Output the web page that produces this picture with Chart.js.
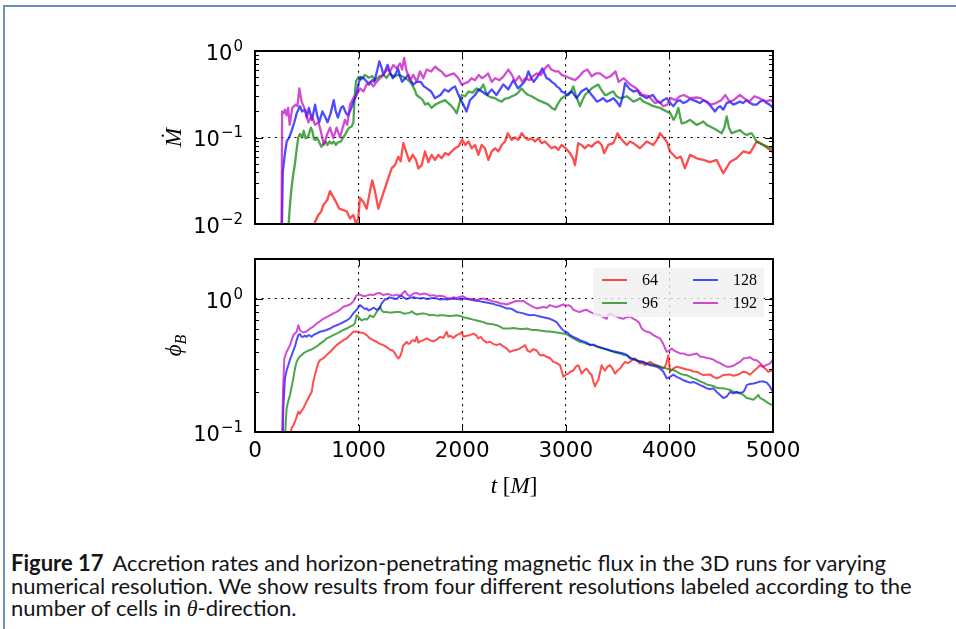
<!DOCTYPE html>
<html>
<head>
<meta charset="utf-8">
<script src="https://cdn.jsdelivr.net/npm/chart.js@4.4.1/dist/chart.umd.min.js"></script>
<style>
  html, body { margin: 0; padding: 0; background: #fff; }
  body { width: 956px; height: 629px; position: relative; overflow: hidden; }
  .frame { position: absolute; left: 3px; top: 5px; width: 980px; height: 700px;
           border-left: 2px solid #7391b8; border-top: 2px solid #7391b8; }
  canvas { position: absolute; left: 0; }
  #mdotChart { top: 0; }
  #phiChart { top: 230px; }
  .cap { position: absolute; left: 11px; font-family: Lato, "Open Sans", sans-serif; font-size: 18px;
         line-height: 22px; color: #151515; white-space: pre; }
  .cap b { margin-right: 4px; }
  .cap i { font-family: "Liberation Serif", "DejaVu Serif", serif; }
</style>
</head>
<body>
<div class="frame"></div>
<canvas id="mdotChart" width="956" height="245"></canvas>
<canvas id="phiChart" width="956" height="295"></canvas>
<div class="cap" id="cap1" style="top:552px"><b>Figure 17</b> Accretion rates and horizon-penetrating magnetic flux in the 3D runs for varying</div>
<div class="cap" id="cap2" style="top:575px">numerical resolution. We show results from four different resolutions labeled according to the</div>
<div class="cap" id="cap3" style="top:597px">number of cells in <i>θ</i>-direction.</div>
<script>
// axes
const tTicks = [0, 1000, 2000, 3000, 4000, 5000];
const mdotTicks = [0.01, 0.1, 1];
const mdotExponents = ['−2', '−1', '0'];
const phiTicks = [0.1, 1];
const phiExponents = ['−1', '0'];

// runs, labelled by number of cells in theta
const resolutions = ['64', '96', '128', '192'];
const lineColors = ['rgba(255,0,0,0.7)', 'rgba(0,128,0,0.7)', 'rgba(0,0,255,0.7)', 'rgba(191,0,191,0.7)'];

// accretion rate, [t, Mdot]
const mdot64 = [[560,0.005],[580,0.0106],[612,0.0127],[640,0.014],[660,0.0166],[698,0.019],[724,0.024],[750,0.021],[782,0.018],[814,0.015],[853,0.0145],[885,0.014],[917,0.0116],[949,0.0127],[975,0.010],[997,0.0116],[1013,0.020],[1046,0.018],[1078,0.015],[1110,0.024],[1132,0.032],[1158,0.024],[1190,0.015],[1223,0.020],[1255,0.026],[1287,0.034],[1319,0.044],[1351,0.048],[1384,0.060],[1406,0.053],[1432,0.086],[1458,0.069],[1490,0.053],[1522,0.063],[1554,0.055],[1577,0.044],[1609,0.048],[1641,0.069],[1673,0.052],[1705,0.063],[1737,0.055],[1770,0.063],[1802,0.0575],[1834,0.066],[1866,0.063],[1898,0.069],[1931,0.075],[1963,0.0785],[2000,0.094],[2030,0.082],[2060,0.090],[2092,0.075],[2124,0.082],[2156,0.063],[2188,0.082],[2220,0.075],[2253,0.055],[2285,0.069],[2317,0.075],[2349,0.069],[2381,0.082],[2413,0.090],[2440,0.112],[2477,0.094],[2510,0.10],[2542,0.094],[2574,0.112],[2606,0.10],[2638,0.094],[2670,0.098],[2702,0.090],[2735,0.098],[2767,0.086],[2799,0.090],[2831,0.082],[2863,0.075],[2895,0.0785],[2928,0.072],[2960,0.082],[3000,0.075],[3040,0.066],[3070,0.0575],[3089,0.048],[3120,0.086],[3150,0.082],[3185,0.075],[3217,0.082],[3250,0.0785],[3282,0.086],[3314,0.090],[3346,0.082],[3370,0.066],[3410,0.082],[3459,0.086],[3500,0.112],[3540,0.094],[3588,0.082],[3620,0.090],[3652,0.086],[3716,0.075],[3781,0.090],[3845,0.082],[3880,0.094],[3910,0.112],[3974,0.090],[4006,0.069],[4070,0.0575],[4110,0.060],[4150,0.044],[4199,0.063],[4263,0.0575],[4327,0.055],[4392,0.052],[4456,0.055],[4520,0.0386],[4585,0.052],[4649,0.0575],[4713,0.069],[4778,0.066],[4842,0.090],[4907,0.082],[4950,0.075],[4987,0.069],[5000,0.072]];
const mdot96 = [[300,0.004],[322,0.009],[340,0.018],[354,0.027],[370,0.038],[386,0.05],[400,0.07],[418,0.10],[434,0.11],[456,0.10],[470,0.12],[488,0.098],[505,0.10],[521,0.11],[540,0.13],[553,0.12],[570,0.095],[585,0.094],[600,0.10],[617,0.09],[640,0.078],[660,0.085],[680,0.09],[700,0.082],[720,0.09],[740,0.085],[760,0.09],[780,0.082],[800,0.088],[830,0.09],[850,0.10],[868,0.107],[890,0.12],[910,0.13],[933,0.134],[950,0.15],[962,0.30],[975,0.45],[1000,0.50],[1030,0.47],[1060,0.53],[1100,0.49],[1130,0.51],[1160,0.46],[1200,0.51],[1240,0.53],[1270,0.49],[1300,0.55],[1340,0.50],[1380,0.53],[1420,0.51],[1450,0.485],[1480,0.46],[1510,0.42],[1540,0.36],[1560,0.31],[1590,0.29],[1620,0.27],[1641,0.24],[1670,0.25],[1705,0.22],[1740,0.24],[1770,0.25],[1800,0.26],[1834,0.27],[1866,0.25],[1898,0.23],[1925,0.21],[1947,0.19],[1970,0.24],[1995,0.31],[2030,0.30],[2060,0.34],[2100,0.33],[2140,0.37],[2170,0.35],[2204,0.41],[2230,0.33],[2253,0.30],[2285,0.29],[2317,0.285],[2350,0.27],[2381,0.26],[2410,0.28],[2445,0.285],[2480,0.30],[2510,0.31],[2540,0.33],[2574,0.37],[2606,0.33],[2638,0.31],[2670,0.30],[2702,0.285],[2735,0.27],[2767,0.26],[2800,0.25],[2831,0.24],[2865,0.22],[2895,0.21],[2928,0.25],[2960,0.285],[2990,0.30],[3024,0.31],[3050,0.34],[3072,0.39],[3100,0.30],[3137,0.23],[3160,0.27],[3185,0.31],[3220,0.34],[3250,0.37],[3280,0.39],[3314,0.41],[3340,0.36],[3378,0.31],[3395,0.31],[3430,0.33],[3459,0.34],[3490,0.30],[3523,0.285],[3555,0.29],[3588,0.30],[3620,0.28],[3652,0.26],[3685,0.27],[3716,0.285],[3750,0.26],[3781,0.25],[3815,0.24],[3845,0.23],[3880,0.225],[3910,0.22],[3940,0.21],[3974,0.20],[4010,0.19],[4039,0.16],[4060,0.175],[4086,0.22],[4105,0.17],[4118,0.146],[4160,0.15],[4199,0.16],[4230,0.15],[4263,0.14],[4295,0.145],[4327,0.153],[4360,0.14],[4392,0.134],[4425,0.128],[4456,0.122],[4480,0.117],[4504,0.112],[4530,0.13],[4553,0.175],[4575,0.13],[4601,0.112],[4640,0.117],[4681,0.122],[4715,0.112],[4746,0.107],[4770,0.11],[4794,0.112],[4820,0.10],[4842,0.09],[4875,0.086],[4907,0.082],[4950,0.078],[4987,0.075],[5000,0.074]];
const mdot128 = [[255,0.004],[268,0.04],[285,0.06],[306,0.09],[330,0.10],[354,0.12],[380,0.15],[402,0.19],[434,0.23],[455,0.20],[483,0.21],[500,0.17],[520,0.22],[550,0.16],[580,0.24],[600,0.18],[620,0.15],[650,0.20],[680,0.17],[700,0.15],[730,0.19],[760,0.27],[780,0.20],[800,0.17],[830,0.22],[850,0.23],[880,0.19],[900,0.18],[930,0.22],[950,0.26],[975,0.30],[1000,0.42],[1020,0.50],[1050,0.485],[1080,0.44],[1100,0.41],[1130,0.46],[1150,0.44],[1180,0.60],[1200,0.76],[1220,0.65],[1240,0.53],[1260,0.60],[1280,0.69],[1300,0.58],[1330,0.485],[1360,0.55],[1380,0.63],[1400,0.51],[1420,0.44],[1450,0.485],[1480,0.53],[1500,0.46],[1530,0.41],[1560,0.44],[1600,0.44],[1630,0.39],[1660,0.37],[1700,0.34],[1737,0.285],[1790,0.31],[1830,0.36],[1866,0.34],[1900,0.37],[1931,0.39],[1955,0.33],[1980,0.285],[2026,0.22],[2042,0.20],[2075,0.27],[2100,0.29],[2124,0.31],[2160,0.36],[2190,0.34],[2240,0.31],[2285,0.36],[2330,0.31],[2360,0.35],[2397,0.41],[2445,0.36],[2493,0.46],[2540,0.37],[2590,0.425],[2615,0.47],[2639,0.58],[2665,0.49],[2690,0.44],[2730,0.51],[2774,0.63],[2800,0.53],[2815,0.485],[2840,0.47],[2865,0.44],[2890,0.42],[2912,0.39],[2940,0.37],[2960,0.34],[2985,0.33],[3009,0.31],[3057,0.34],[3105,0.285],[3150,0.34],[3200,0.37],[3250,0.31],[3280,0.28],[3300,0.26],[3330,0.27],[3360,0.285],[3395,0.26],[3430,0.27],[3459,0.285],[3490,0.26],[3523,0.23],[3550,0.30],[3572,0.425],[3610,0.37],[3652,0.34],[3690,0.35],[3720,0.31],[3750,0.30],[3781,0.285],[3810,0.30],[3840,0.31],[3875,0.27],[3910,0.25],[3940,0.27],[3974,0.285],[4010,0.25],[4039,0.23],[4070,0.26],[4100,0.27],[4135,0.25],[4166,0.26],[4200,0.28],[4230,0.27],[4265,0.26],[4295,0.25],[4330,0.27],[4360,0.26],[4400,0.23],[4440,0.20],[4465,0.22],[4490,0.23],[4520,0.21],[4553,0.25],[4585,0.26],[4617,0.24],[4650,0.25],[4680,0.26],[4710,0.25],[4746,0.27],[4780,0.25],[4810,0.24],[4842,0.24],[4875,0.26],[4907,0.27],[4939,0.25],[4965,0.24],[4987,0.23],[5000,0.22]];
const mdot192 = [[255,0.004],[262,0.20],[275,0.19],[290,0.21],[305,0.18],[320,0.22],[335,0.14],[360,0.22],[392,0.24],[410,0.23],[428,0.37],[450,0.26],[483,0.21],[515,0.15],[547,0.18],[580,0.14],[612,0.15],[634,0.12],[666,0.082],[698,0.11],[724,0.13],[756,0.098],[788,0.13],[820,0.10],[868,0.16],[890,0.14],[917,0.24],[949,0.285],[981,0.31],[1013,0.37],[1046,0.34],[1078,0.41],[1110,0.44],[1142,0.39],[1174,0.44],[1207,0.485],[1239,0.53],[1271,0.61],[1303,0.58],[1335,0.69],[1368,0.63],[1400,0.72],[1420,0.61],[1439,0.83],[1464,0.58],[1496,0.46],[1528,0.53],[1561,0.44],[1593,0.58],[1625,0.485],[1657,0.61],[1700,0.58],[1740,0.66],[1770,0.61],[1800,0.58],[1840,0.51],[1880,0.53],[1920,0.55],[1963,0.485],[1995,0.41],[2030,0.425],[2060,0.44],[2090,0.485],[2124,0.46],[2160,0.53],[2190,0.485],[2220,0.51],[2250,0.55],[2285,0.44],[2320,0.485],[2360,0.46],[2400,0.51],[2445,0.61],[2480,0.53],[2510,0.44],[2550,0.51],[2580,0.44],[2610,0.485],[2650,0.46],[2680,0.51],[2720,0.55],[2760,0.53],[2800,0.63],[2830,0.69],[2860,0.61],[2900,0.58],[2930,0.58],[2960,0.53],[3000,0.51],[3040,0.485],[3090,0.46],[3130,0.51],[3170,0.58],[3210,0.61],[3250,0.51],[3290,0.55],[3330,0.55],[3390,0.485],[3430,0.51],[3480,0.58],[3510,0.44],[3560,0.485],[3620,0.41],[3680,0.37],[3740,0.31],[3800,0.30],[3860,0.25],[3900,0.26],[3940,0.23],[3980,0.24],[4010,0.285],[4060,0.27],[4100,0.30],[4140,0.31],[4200,0.285],[4260,0.29],[4300,0.285],[4350,0.26],[4400,0.24],[4450,0.25],[4500,0.27],[4540,0.31],[4580,0.26],[4620,0.27],[4680,0.31],[4720,0.285],[4770,0.26],[4820,0.30],[4870,0.285],[4930,0.26],[4970,0.27],[5000,0.26]];

// horizon magnetic flux, [t, phi_B]
const phi64 = [[335,0.08],[345,0.10],[354,0.107],[370,0.112],[386,0.12],[402,0.13],[418,0.142],[434,0.137],[450,0.145],[466,0.15],[482,0.16],[498,0.169],[515,0.18],[531,0.19],[547,0.20],[563,0.239],[579,0.27],[595,0.30],[611,0.33],[627,0.347],[651,0.355],[675,0.367],[700,0.385],[724,0.40],[756,0.425],[788,0.45],[820,0.47],[853,0.49],[885,0.505],[917,0.535],[949,0.567],[981,0.57],[997,0.567],[1013,0.56],[1046,0.555],[1078,0.535],[1110,0.505],[1142,0.49],[1174,0.477],[1207,0.46],[1239,0.45],[1271,0.435],[1303,0.415],[1330,0.41],[1351,0.39],[1368,0.37],[1384,0.357],[1400,0.37],[1416,0.40],[1432,0.45],[1448,0.46],[1464,0.477],[1480,0.46],[1496,0.465],[1512,0.485],[1529,0.49],[1545,0.48],[1561,0.52],[1577,0.47],[1593,0.48],[1625,0.49],[1657,0.505],[1689,0.49],[1721,0.48],[1754,0.495],[1786,0.52],[1818,0.51],[1850,0.567],[1866,0.52],[1882,0.53],[1914,0.51],[1947,0.535],[1980,0.55],[1995,0.567],[2011,0.52],[2043,0.53],[2075,0.535],[2108,0.55],[2140,0.53],[2156,0.505],[2180,0.52],[2204,0.49],[2236,0.47],[2268,0.477],[2300,0.46],[2333,0.45],[2365,0.46],[2397,0.44],[2429,0.425],[2461,0.40],[2494,0.41],[2526,0.415],[2558,0.425],[2590,0.44],[2606,0.45],[2630,0.41],[2654,0.40],[2686,0.42],[2719,0.41],[2751,0.378],[2783,0.38],[2815,0.368],[2847,0.36],[2880,0.337],[2912,0.33],[2944,0.318],[2960,0.29],[2976,0.26],[3000,0.27],[3024,0.275],[3048,0.285],[3072,0.29],[3097,0.31],[3121,0.318],[3153,0.275],[3177,0.29],[3201,0.30],[3225,0.28],[3250,0.268],[3266,0.24],[3282,0.22],[3298,0.235],[3314,0.245],[3330,0.28],[3346,0.318],[3362,0.30],[3379,0.29],[3403,0.31],[3427,0.318],[3451,0.30],[3475,0.275],[3500,0.29],[3524,0.30],[3548,0.32],[3572,0.337],[3596,0.33],[3620,0.337],[3644,0.35],[3668,0.357],[3692,0.34],[3716,0.327],[3740,0.33],[3765,0.318],[3789,0.33],[3813,0.337],[3845,0.325],[3878,0.318],[3910,0.31],[3942,0.30],[3966,0.32],[3990,0.378],[4006,0.284],[4038,0.30],[4071,0.31],[4103,0.305],[4135,0.30],[4167,0.295],[4199,0.292],[4232,0.285],[4264,0.284],[4296,0.275],[4328,0.268],[4360,0.27],[4393,0.271],[4425,0.26],[4457,0.253],[4489,0.26],[4521,0.268],[4553,0.27],[4585,0.271],[4617,0.265],[4650,0.268],[4682,0.275],[4714,0.284],[4746,0.28],[4778,0.27],[4810,0.285],[4843,0.30],[4875,0.318],[4899,0.31],[4923,0.30],[4955,0.284],[4988,0.29],[5000,0.285]];
const phi96 = [[285,0.05],[295,0.11],[305,0.15],[320,0.17],[338,0.19],[354,0.22],[370,0.253],[386,0.30],[402,0.337],[418,0.357],[434,0.37],[450,0.38],[466,0.39],[490,0.40],[515,0.41],[540,0.415],[563,0.425],[595,0.44],[627,0.46],[659,0.48],[691,0.505],[724,0.52],[756,0.535],[788,0.55],[820,0.567],[853,0.585],[885,0.60],[917,0.62],[949,0.636],[965,0.66],[981,0.755],[997,0.735],[1013,0.71],[1030,0.69],[1046,0.70],[1062,0.71],[1078,0.70],[1094,0.72],[1110,0.755],[1126,0.74],[1142,0.73],[1158,0.76],[1174,0.80],[1190,0.83],[1207,0.875],[1223,0.82],[1240,0.80],[1271,0.80],[1303,0.79],[1335,0.795],[1368,0.80],[1400,0.80],[1432,0.78],[1464,0.78],[1496,0.79],[1512,0.81],[1540,0.78],[1561,0.765],[1593,0.775],[1625,0.78],[1657,0.77],[1689,0.755],[1721,0.76],[1754,0.75],[1786,0.755],[1818,0.755],[1850,0.75],[1882,0.745],[1914,0.75],[1947,0.755],[1980,0.745],[2011,0.73],[2043,0.72],[2075,0.71],[2108,0.70],[2140,0.69],[2172,0.68],[2204,0.67],[2236,0.655],[2268,0.65],[2300,0.645],[2333,0.636],[2365,0.62],[2397,0.60],[2430,0.60],[2461,0.60],[2494,0.605],[2526,0.60],[2558,0.595],[2590,0.595],[2622,0.60],[2654,0.59],[2686,0.585],[2719,0.585],[2751,0.58],[2783,0.575],[2815,0.57],[2847,0.57],[2880,0.565],[2912,0.56],[2944,0.555],[2976,0.55],[3000,0.545],[3024,0.535],[3048,0.52],[3072,0.505],[3105,0.49],[3137,0.477],[3169,0.47],[3201,0.46],[3233,0.455],[3266,0.45],[3298,0.44],[3330,0.43],[3362,0.425],[3395,0.415],[3427,0.41],[3460,0.40],[3492,0.395],[3524,0.39],[3556,0.38],[3588,0.378],[3620,0.365],[3652,0.35],[3684,0.345],[3716,0.337],[3749,0.335],[3781,0.327],[3813,0.325],[3845,0.32],[3878,0.315],[3910,0.31],[3942,0.305],[3974,0.30],[4006,0.295],[4038,0.292],[4070,0.285],[4103,0.275],[4135,0.27],[4167,0.268],[4200,0.26],[4232,0.253],[4264,0.248],[4296,0.24],[4328,0.235],[4360,0.228],[4393,0.225],[4425,0.222],[4457,0.215],[4489,0.213],[4521,0.213],[4553,0.21],[4585,0.207],[4618,0.201],[4650,0.198],[4682,0.195],[4714,0.19],[4746,0.18],[4778,0.178],[4810,0.175],[4843,0.185],[4859,0.19],[4875,0.18],[4907,0.175],[4930,0.17],[4955,0.165],[4988,0.16],[5000,0.158]];
const phi128 = [[265,0.05],[273,0.15],[289,0.253],[305,0.29],[321,0.318],[338,0.35],[354,0.378],[370,0.41],[386,0.44],[402,0.49],[418,0.535],[434,0.545],[450,0.52],[466,0.52],[483,0.53],[499,0.52],[515,0.535],[531,0.53],[547,0.52],[563,0.535],[579,0.545],[595,0.55],[611,0.56],[627,0.567],[659,0.575],[691,0.585],[724,0.60],[756,0.62],[788,0.635],[820,0.65],[853,0.67],[885,0.69],[917,0.72],[949,0.78],[981,0.83],[1013,0.90],[1030,0.88],[1046,0.86],[1062,0.84],[1078,0.85],[1094,0.82],[1110,0.83],[1126,0.84],[1142,0.86],[1158,0.85],[1174,0.83],[1190,0.84],[1207,0.87],[1223,0.93],[1239,0.96],[1255,1.0],[1271,0.99],[1287,1.02],[1303,1.03],[1335,1.01],[1368,1.00],[1390,1.04],[1416,1.06],[1440,1.02],[1464,1.00],[1496,1.02],[1529,1.03],[1561,1.02],[1593,1.01],[1625,1.02],[1657,1.00],[1690,1.01],[1721,1.02],[1754,1.01],[1786,0.99],[1818,1.00],[1850,0.99],[1882,1.00],[1914,1.01],[1947,1.00],[1980,0.99],[2011,1.01],[2043,1.00],[2075,0.99],[2108,0.98],[2140,0.97],[2172,0.96],[2204,0.95],[2236,0.94],[2268,0.93],[2300,0.92],[2333,0.90],[2365,0.89],[2397,0.87],[2430,0.85],[2461,0.85],[2494,0.83],[2526,0.80],[2558,0.79],[2590,0.78],[2622,0.765],[2654,0.755],[2686,0.76],[2719,0.75],[2751,0.74],[2783,0.73],[2815,0.72],[2847,0.71],[2880,0.69],[2912,0.67],[2944,0.62],[2970,0.585],[2992,0.57],[3016,0.56],[3040,0.535],[3072,0.52],[3105,0.505],[3137,0.49],[3169,0.48],[3201,0.47],[3233,0.45],[3266,0.455],[3298,0.44],[3330,0.435],[3362,0.425],[3395,0.42],[3427,0.41],[3460,0.405],[3492,0.40],[3524,0.395],[3556,0.39],[3588,0.38],[3620,0.357],[3652,0.355],[3684,0.347],[3716,0.34],[3749,0.337],[3781,0.325],[3813,0.318],[3845,0.315],[3878,0.31],[3910,0.30],[3942,0.284],[3974,0.253],[4006,0.26],[4038,0.27],[4070,0.26],[4103,0.253],[4135,0.245],[4167,0.24],[4200,0.235],[4232,0.238],[4264,0.232],[4296,0.225],[4328,0.22],[4360,0.213],[4393,0.21],[4425,0.213],[4457,0.20],[4489,0.19],[4521,0.18],[4553,0.185],[4585,0.20],[4617,0.195],[4650,0.20],[4682,0.197],[4714,0.20],[4730,0.21],[4746,0.225],[4778,0.23],[4810,0.232],[4843,0.235],[4875,0.24],[4907,0.24],[4940,0.235],[4970,0.22],[5000,0.20]];
const phi192 = [[255,0.05],[270,0.2],[283,0.357],[305,0.40],[338,0.45],[370,0.535],[402,0.567],[418,0.636],[434,0.58],[466,0.56],[498,0.57],[531,0.60],[563,0.62],[595,0.655],[627,0.68],[659,0.71],[690,0.73],[724,0.755],[756,0.78],[788,0.80],[820,0.83],[853,0.875],[885,0.89],[917,0.91],[950,0.96],[981,1.07],[1013,1.08],[1046,1.05],[1078,1.06],[1110,1.08],[1142,1.07],[1174,1.10],[1207,1.11],[1239,1.07],[1271,1.09],[1303,1.08],[1335,1.06],[1368,1.08],[1400,1.06],[1448,1.15],[1470,1.08],[1496,1.05],[1530,1.10],[1561,1.11],[1593,1.08],[1625,1.10],[1657,1.09],[1690,1.06],[1721,1.07],[1754,1.05],[1786,1.06],[1818,1.05],[1850,1.02],[1882,1.01],[1914,1.03],[1947,1.02],[1980,1.04],[2011,1.05],[2043,1.01],[2075,1.00],[2108,0.99],[2140,0.98],[2172,1.00],[2204,1.01],[2236,0.99],[2268,0.98],[2301,0.96],[2333,0.95],[2365,0.93],[2400,0.92],[2430,0.91],[2461,0.93],[2494,0.95],[2526,0.97],[2560,0.96],[2590,0.97],[2622,0.93],[2654,0.90],[2690,0.87],[2719,0.85],[2750,0.86],[2783,0.87],[2815,0.86],[2847,0.90],[2880,0.88],[2912,0.87],[2944,0.89],[2976,0.91],[3000,0.89],[3024,0.90],[3050,0.88],[3072,0.83],[3105,0.81],[3137,0.80],[3170,0.82],[3201,0.83],[3233,0.80],[3266,0.78],[3298,0.77],[3330,0.755],[3362,0.73],[3395,0.71],[3410,0.76],[3427,0.78],[3460,0.75],[3492,0.74],[3524,0.72],[3556,0.71],[3588,0.73],[3620,0.74],[3652,0.71],[3684,0.69],[3710,0.66],[3733,0.60],[3757,0.58],[3781,0.567],[3813,0.56],[3845,0.535],[3878,0.52],[3910,0.505],[3940,0.46],[3974,0.40],[4000,0.41],[4022,0.425],[4046,0.41],[4071,0.40],[4103,0.39],[4135,0.39],[4167,0.38],[4199,0.378],[4232,0.385],[4264,0.39],[4296,0.37],[4328,0.367],[4360,0.36],[4393,0.357],[4425,0.35],[4457,0.337],[4489,0.33],[4521,0.318],[4553,0.31],[4585,0.31],[4617,0.315],[4650,0.327],[4682,0.337],[4714,0.357],[4746,0.36],[4778,0.365],[4810,0.35],[4843,0.347],[4875,0.33],[4907,0.31],[4940,0.32],[4970,0.327],[5000,0.35]];

const toXY = rows => rows.map(([t, v]) => ({ x: t, y: v }));

function makeDatasets(series, width) {
  // 192 drawn on top, 64 at the bottom
  return series.map((rows, i) => ({
    label: resolutions[i],
    data: toXY(rows),
    borderColor: lineColors[i],
    borderWidth: width,
    pointRadius: 0,
    tension: 0,
    borderJoinStyle: 'round',
    clip: 0,
    order: series.length - 1 - i
  }));
}

// inward ticks on all four sides plus the box around the plot
const axesBox = {
  id: 'axesBox',
  afterDatasetsDraw(chart, args, opts) {
    const { ctx, chartArea: a, scales: { x, y } } = chart;
    ctx.save();
    ctx.strokeStyle = '#000';
    ctx.lineWidth = 1;
    ctx.beginPath();
    tTicks.forEach(t => {
      const px = Math.round(x.getPixelForValue(t)) + 0.5;
      ctx.moveTo(px, a.bottom); ctx.lineTo(px, a.bottom - 7);
      ctx.moveTo(px, a.top); ctx.lineTo(px, a.top + 7);
    });
    opts.decades.forEach(d => {
      for (let k = 1; k <= 9; k++) {
        const v = d * k;
        if (v < y.min * 0.999 || v > y.max * 1.001) continue;
        const py = Math.round(y.getPixelForValue(v)) + 0.5;
        const len = k === 1 ? 8 : 4;
        ctx.moveTo(a.left, py); ctx.lineTo(a.left + len, py);
        ctx.moveTo(a.right, py); ctx.lineTo(a.right - len, py);
      }
    });
    ctx.stroke();
    ctx.lineWidth = 2;
    ctx.strokeRect(a.left, a.top, a.right - a.left, a.bottom - a.top);
    ctx.restore();
  }
};

// 10^n labels on the log axis, placed from the scale's own tick positions
const powerLabels = {
  id: 'powerLabels',
  afterDraw(chart, args, opts) {
    const { ctx, chartArea: a, scales: { y } } = chart;
    ctx.save();
    ctx.fillStyle = '#000';
    ctx.textBaseline = 'alphabetic';
    ctx.textAlign = 'right';
    y.ticks.forEach((t, i) => {
      const py = y.getPixelForValue(t.value);
      const right = a.left - 12;
      ctx.font = '15px "DejaVu Sans", sans-serif';
      const ew = ctx.measureText(opts.exponents[i]).width;
      ctx.fillText(opts.exponents[i], right, py - 0.5);
      ctx.font = '21px "DejaVu Sans", sans-serif';
      ctx.fillText('10', right - ew - 1, py + 8.6);
    });
    ctx.restore();
  }
};

// math-style axis titles: list of [text, font, baseline shift]
function drawRun(ctx, parts, cx, cy, rotate) {
  ctx.save();
  ctx.translate(cx, cy);
  if (rotate) ctx.rotate(-Math.PI / 2);
  ctx.fillStyle = '#000';
  ctx.textBaseline = 'alphabetic';
  let w = 0;
  parts.forEach(p => { ctx.font = p[1]; w += ctx.measureText(p[0]).width; });
  let xx = -w / 2;
  parts.forEach(p => {
    ctx.font = p[1];
    ctx.fillText(p[0], xx, p[2]);
    xx += ctx.measureText(p[0]).width;
  });
  ctx.restore();
}

const mathTitles = {
  id: 'mathTitles',
  afterDraw(chart, args, opts) {
    opts.items.forEach(it => drawRun(chart.ctx, it.parts, it.x, it.y, it.rotate));
  }
};

// two-column legend in the upper right of the flux panel
const boxLegend = {
  id: 'boxLegend',
  afterDraw(chart, args, opts) {
    if (!opts.show) return;
    const { ctx, chartArea: a } = chart;
    const ds = chart.data.datasets;
    const bx = a.right - 180, by = a.top + 9;
    ctx.save();
    ctx.fillStyle = 'rgba(240,240,240,0.8)';
    ctx.fillRect(bx, by, 171, 49);
    ctx.font = '16px "Liberation Serif", "DejaVu Serif", serif';
    ctx.textBaseline = 'middle';
    ds.forEach((d, i) => {
      const col = Math.floor(i / 2), row = i % 2;
      const x0 = bx + 9 + col * 91, y0 = by + 12 + row * 23;
      ctx.strokeStyle = d.borderColor;
      ctx.lineWidth = 2;
      ctx.beginPath();
      ctx.moveTo(x0, y0); ctx.lineTo(x0 + 25, y0);
      ctx.stroke();
      ctx.fillStyle = '#000';
      ctx.fillText(d.label, x0 + 40, y0 + 1);
    });
    ctx.restore();
  }
};

const tickFont = { family: '"DejaVu Sans", sans-serif', size: 21.5 };
const mathItalic = 'italic 23px "Liberation Serif", "DejaVu Serif", serif';
const mathSub = 'italic 16px "Liberation Serif", "DejaVu Serif", serif';
const mathRoman = '23px "Liberation Serif", "DejaVu Serif", serif';

function logAxis(min, max, ticks, width) {
  return {
    type: 'logarithmic',
    min: min,
    max: max,
    afterBuildTicks: s => { s.ticks = ticks.map(v => ({ value: v })); },
    afterFit: s => { s.width = width; },
    grid: { color: '#000', lineWidth: 1.1, drawTicks: false },
    border: { display: false, dash: [2, 4.6] },
    ticks: { display: false }
  };
}

function timeAxis(showLabels, height) {
  return {
    type: 'linear',
    min: 0,
    max: 5000,
    afterBuildTicks: s => { s.ticks = tTicks.map(v => ({ value: v })); },
    afterFit: s => { s.height = height; },
    grid: { color: '#000', lineWidth: 1.1, drawTicks: false },
    border: { display: false, dash: [2, 4.6] },
    ticks: { display: showLabels, autoSkip: false, maxRotation: 0, padding: 7, color: '#000', font: tickFont,
             callback: v => String(v) }
  };
}

new Chart(document.getElementById('mdotChart'), {
  type: 'line',
  data: { datasets: makeDatasets([mdot64, mdot96, mdot128, mdot192], 2.3) },
  options: {
    responsive: false,
    animation: false,
    layout: { padding: { left: 0, right: 183, top: 51, bottom: 21 } },
    scales: {
      x: timeAxis(false, 0),
      y: logAxis(0.01, 1, mdotTicks, 255)
    },
    plugins: {
      legend: { display: false },
      tooltip: { enabled: false },
      axesBox: { decades: [0.01, 0.1] },
      powerLabels: { exponents: mdotExponents },
      mathTitles: { items: [{ x: 181, y: 137.5, rotate: true, parts: [['Ṁ', mathItalic, 0]] }] },
      boxLegend: { show: false }
    }
  },
  plugins: [axesBox, powerLabels, mathTitles, boxLegend]
});

new Chart(document.getElementById('phiChart'), {
  type: 'line',
  data: { datasets: makeDatasets([phi64, phi96, phi128, phi192], 2) },
  options: {
    responsive: false,
    animation: false,
    layout: { padding: { left: 0, right: 183, top: 29, bottom: 33 } },
    scales: {
      x: timeAxis(true, 60),
      y: logAxis(0.1, 2, phiTicks, 255)
    },
    plugins: {
      legend: { display: false },
      tooltip: { enabled: false },
      axesBox: { decades: [0.1, 1] },
      powerLabels: { exponents: phiExponents },
      mathTitles: { items: [
        { x: 181, y: 115.5, rotate: true, parts: [['ϕ', mathItalic, 0], ['B', mathSub, 5]] },
        { x: 514, y: 263, rotate: false, parts: [['t', mathItalic, 0], [' [', mathRoman, 0], ['M', mathItalic, 0], [']', mathRoman, 0]] }
      ] },
      boxLegend: { show: true }
    }
  },
  plugins: [axesBox, powerLabels, mathTitles, boxLegend]
});

// caption lines share one size, chosen so the first line spans its column
const cap1 = document.getElementById('cap1');
const capSize = 18 * 876 / cap1.getBoundingClientRect().width;
document.querySelectorAll('.cap').forEach(el => { el.style.fontSize = capSize.toFixed(2) + 'px'; });
</script>
</body>
</html>
